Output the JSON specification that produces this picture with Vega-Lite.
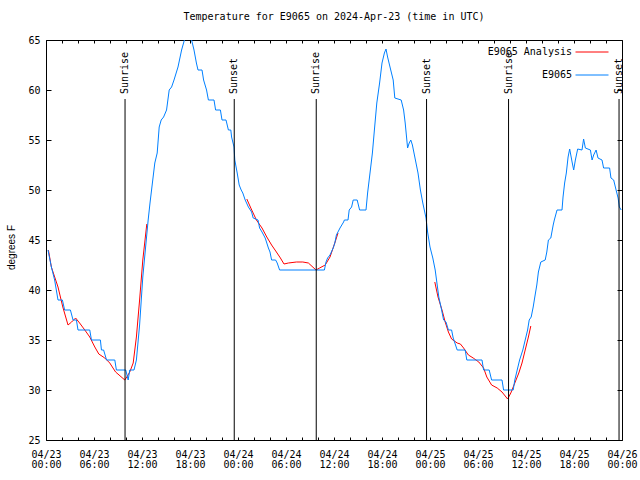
{
  "$schema": "https://vega.github.io/schema/vega-lite/v6.json",
  "width": 576,
  "height": 400,
  "autosize": {"type": "none"},
  "padding": {"left": 46, "top": 40, "right": 18, "bottom": 40},
  "background": "white",
  "title": {"text": "Temperature for E9065 on 2024-Apr-23 (time in UTC)", "font": "DejaVu Sans Mono", "fontSize": 10, "fontWeight": "normal", "color": "black", "offset": 13, "anchor": "middle"},
  "config": {
    "view": {"stroke": null},
    "axis": {"grid": false, "domainColor": "black", "tickColor": "black", "labelColor": "black", "titleColor": "black", "labelFont": "DejaVu Sans Mono", "labelFontSize": 10}
  },
  "datasets": {
    "obs": [
      {"hours": 0.25, "temp": 44, "series": "E9065"}, {"hours": 0.67, "temp": 42.3, "series": "E9065"}, {"hours": 1.08, "temp": 41, "series": "E9065"}, {"hours": 1.5, "temp": 39, "series": "E9065"},
      {"hours": 2.05, "temp": 39, "series": "E9065"}, {"hours": 2.33, "temp": 38, "series": "E9065"}, {"hours": 3.05, "temp": 38, "series": "E9065"}, {"hours": 3.38, "temp": 37, "series": "E9065"},
      {"hours": 3.8, "temp": 37, "series": "E9065"}, {"hours": 4.0, "temp": 36, "series": "E9065"}, {"hours": 5.47, "temp": 36, "series": "E9065"}, {"hours": 5.68, "temp": 35, "series": "E9065"},
      {"hours": 6.8, "temp": 35, "series": "E9065"}, {"hours": 6.93, "temp": 34, "series": "E9065"}, {"hours": 7.2, "temp": 34, "series": "E9065"}, {"hours": 7.57, "temp": 33, "series": "E9065"},
      {"hours": 8.6, "temp": 33, "series": "E9065"}, {"hours": 8.8, "temp": 32, "series": "E9065"}, {"hours": 9.97, "temp": 32, "series": "E9065"}, {"hours": 10.27, "temp": 31, "series": "E9065"},
      {"hours": 10.47, "temp": 32, "series": "E9065"}, {"hours": 11.0, "temp": 32, "series": "E9065"}, {"hours": 11.3, "temp": 33, "series": "E9065"}, {"hours": 11.7, "temp": 36.5, "series": "E9065"},
      {"hours": 12.1, "temp": 41.3, "series": "E9065"}, {"hours": 12.57, "temp": 45.3, "series": "E9065"}, {"hours": 12.77, "temp": 47, "series": "E9065"}, {"hours": 13.0, "temp": 48.7, "series": "E9065"},
      {"hours": 13.3, "temp": 50.7, "series": "E9065"}, {"hours": 13.6, "temp": 52.7, "series": "E9065"}, {"hours": 13.9, "temp": 53.7, "series": "E9065"}, {"hours": 14.15, "temp": 56.3, "series": "E9065"},
      {"hours": 14.4, "temp": 57, "series": "E9065"}, {"hours": 14.7, "temp": 57.3, "series": "E9065"}, {"hours": 15.07, "temp": 58, "series": "E9065"}, {"hours": 15.4, "temp": 60, "series": "E9065"},
      {"hours": 15.7, "temp": 60.3, "series": "E9065"}, {"hours": 16.0, "temp": 61, "series": "E9065"}, {"hours": 16.5, "temp": 62.3, "series": "E9065"}, {"hours": 16.95, "temp": 64, "series": "E9065"},
      {"hours": 17.3, "temp": 65, "series": "E9065"}, {"hours": 17.75, "temp": 66, "series": "E9065"}, {"hours": 18.2, "temp": 65, "series": "E9065"}, {"hours": 18.5, "temp": 64, "series": "E9065"},
      {"hours": 18.8, "temp": 62.7, "series": "E9065"}, {"hours": 19.0, "temp": 62, "series": "E9065"}, {"hours": 19.5, "temp": 62, "series": "E9065"}, {"hours": 19.7, "temp": 61, "series": "E9065"},
      {"hours": 20.07, "temp": 60, "series": "E9065"}, {"hours": 20.3, "temp": 59, "series": "E9065"}, {"hours": 21.0, "temp": 59, "series": "E9065"}, {"hours": 21.2, "temp": 58, "series": "E9065"},
      {"hours": 21.8, "temp": 58, "series": "E9065"}, {"hours": 22.0, "temp": 57, "series": "E9065"}, {"hours": 22.5, "temp": 57, "series": "E9065"}, {"hours": 22.8, "temp": 56, "series": "E9065"},
      {"hours": 23.1, "temp": 56, "series": "E9065"}, {"hours": 23.2, "temp": 55.3, "series": "E9065"}, {"hours": 23.5, "temp": 54.3, "series": "E9065"}, {"hours": 23.6, "temp": 53, "series": "E9065"},
      {"hours": 23.9, "temp": 51.7, "series": "E9065"}, {"hours": 24.15, "temp": 50.5, "series": "E9065"}, {"hours": 24.4, "temp": 50, "series": "E9065"}, {"hours": 24.6, "temp": 49.7, "series": "E9065"},
      {"hours": 24.9, "temp": 49, "series": "E9065"}, {"hours": 25.3, "temp": 48.3, "series": "E9065"}, {"hours": 25.7, "temp": 47.8, "series": "E9065"}, {"hours": 25.9, "temp": 47.2, "series": "E9065"},
      {"hours": 26.5, "temp": 47, "series": "E9065"}, {"hours": 26.7, "temp": 46.2, "series": "E9065"}, {"hours": 27.0, "temp": 45.8, "series": "E9065"}, {"hours": 27.4, "temp": 45.2, "series": "E9065"},
      {"hours": 27.8, "temp": 44.2, "series": "E9065"}, {"hours": 28.0, "temp": 43.8, "series": "E9065"}, {"hours": 28.2, "temp": 43, "series": "E9065"}, {"hours": 28.7, "temp": 43, "series": "E9065"},
      {"hours": 28.9, "temp": 42.7, "series": "E9065"}, {"hours": 29.2, "temp": 42, "series": "E9065"}, {"hours": 34.8, "temp": 42, "series": "E9065"}, {"hours": 35.0, "temp": 42.8, "series": "E9065"},
      {"hours": 35.2, "temp": 43.2, "series": "E9065"}, {"hours": 35.5, "temp": 43.5, "series": "E9065"}, {"hours": 35.9, "temp": 44.2, "series": "E9065"}, {"hours": 36.1, "temp": 44.7, "series": "E9065"},
      {"hours": 36.3, "temp": 45.5, "series": "E9065"}, {"hours": 36.75, "temp": 46.2, "series": "E9065"}, {"hours": 37.2, "temp": 46.8, "series": "E9065"}, {"hours": 37.3, "temp": 47, "series": "E9065"},
      {"hours": 37.75, "temp": 47, "series": "E9065"}, {"hours": 37.9, "temp": 48, "series": "E9065"}, {"hours": 38.2, "temp": 48.3, "series": "E9065"}, {"hours": 38.4, "temp": 49, "series": "E9065"},
      {"hours": 38.9, "temp": 49, "series": "E9065"}, {"hours": 39.2, "temp": 48, "series": "E9065"}, {"hours": 40.0, "temp": 48, "series": "E9065"}, {"hours": 40.2, "temp": 49.7, "series": "E9065"},
      {"hours": 40.5, "temp": 51.7, "series": "E9065"}, {"hours": 40.8, "temp": 53.7, "series": "E9065"}, {"hours": 41.05, "temp": 56, "series": "E9065"}, {"hours": 41.35, "temp": 58.7, "series": "E9065"},
      {"hours": 41.7, "temp": 60.7, "series": "E9065"}, {"hours": 42.0, "temp": 62.7, "series": "E9065"}, {"hours": 42.3, "temp": 63.7, "series": "E9065"}, {"hours": 42.5, "temp": 64.1, "series": "E9065"},
      {"hours": 42.7, "temp": 63.3, "series": "E9065"}, {"hours": 43.0, "temp": 62.3, "series": "E9065"}, {"hours": 43.4, "temp": 61, "series": "E9065"}, {"hours": 43.6, "temp": 59.2, "series": "E9065"},
      {"hours": 44.4, "temp": 59, "series": "E9065"}, {"hours": 44.7, "temp": 58, "series": "E9065"}, {"hours": 44.9, "temp": 56.7, "series": "E9065"}, {"hours": 45.2, "temp": 54.2, "series": "E9065"},
      {"hours": 45.4, "temp": 54.7, "series": "E9065"}, {"hours": 45.6, "temp": 55, "series": "E9065"}, {"hours": 45.8, "temp": 54.5, "series": "E9065"}, {"hours": 46.1, "temp": 53.3, "series": "E9065"},
      {"hours": 46.5, "temp": 51.7, "series": "E9065"}, {"hours": 46.8, "temp": 50, "series": "E9065"}, {"hours": 47.1, "temp": 48.7, "series": "E9065"}, {"hours": 47.5, "temp": 47.2, "series": "E9065"},
      {"hours": 47.7, "temp": 45.8, "series": "E9065"}, {"hours": 48.0, "temp": 44.3, "series": "E9065"}, {"hours": 48.35, "temp": 43.2, "series": "E9065"}, {"hours": 48.65, "temp": 42, "series": "E9065"},
      {"hours": 48.9, "temp": 40.5, "series": "E9065"}, {"hours": 49.1, "temp": 39.3, "series": "E9065"}, {"hours": 49.4, "temp": 38.2, "series": "E9065"}, {"hours": 49.7, "temp": 37, "series": "E9065"},
      {"hours": 50.0, "temp": 36.8, "series": "E9065"}, {"hours": 50.3, "temp": 36, "series": "E9065"}, {"hours": 50.7, "temp": 36, "series": "E9065"}, {"hours": 50.9, "temp": 35.2, "series": "E9065"},
      {"hours": 51.4, "temp": 34, "series": "E9065"}, {"hours": 52.4, "temp": 34, "series": "E9065"}, {"hours": 52.6, "temp": 33, "series": "E9065"}, {"hours": 54.5, "temp": 33, "series": "E9065"},
      {"hours": 54.7, "temp": 32, "series": "E9065"}, {"hours": 55.4, "temp": 32, "series": "E9065"}, {"hours": 55.7, "temp": 31, "series": "E9065"}, {"hours": 57.0, "temp": 31, "series": "E9065"},
      {"hours": 57.2, "temp": 30, "series": "E9065"}, {"hours": 58.4, "temp": 30, "series": "E9065"}, {"hours": 58.6, "temp": 31, "series": "E9065"}, {"hours": 58.9, "temp": 32, "series": "E9065"},
      {"hours": 59.2, "temp": 33, "series": "E9065"}, {"hours": 59.6, "temp": 34, "series": "E9065"}, {"hours": 59.9, "temp": 35, "series": "E9065"}, {"hours": 60.2, "temp": 36, "series": "E9065"},
      {"hours": 60.4, "temp": 37, "series": "E9065"}, {"hours": 60.65, "temp": 37.3, "series": "E9065"}, {"hours": 60.9, "temp": 38.3, "series": "E9065"}, {"hours": 61.1, "temp": 39.3, "series": "E9065"},
      {"hours": 61.35, "temp": 40.5, "series": "E9065"}, {"hours": 61.55, "temp": 41.8, "series": "E9065"}, {"hours": 61.85, "temp": 42.8, "series": "E9065"}, {"hours": 62.4, "temp": 43, "series": "E9065"},
      {"hours": 62.6, "temp": 43.8, "series": "E9065"}, {"hours": 62.8, "temp": 45, "series": "E9065"}, {"hours": 63.1, "temp": 45.2, "series": "E9065"}, {"hours": 63.4, "temp": 46.5, "series": "E9065"},
      {"hours": 63.54, "temp": 47, "series": "E9065"}, {"hours": 63.88, "temp": 48, "series": "E9065"}, {"hours": 64.5, "temp": 48, "series": "E9065"}, {"hours": 64.63, "temp": 49.3, "series": "E9065"},
      {"hours": 64.83, "temp": 50.7, "series": "E9065"}, {"hours": 65.04, "temp": 51.7, "series": "E9065"}, {"hours": 65.26, "temp": 53.3, "series": "E9065"}, {"hours": 65.46, "temp": 54.1, "series": "E9065"},
      {"hours": 65.76, "temp": 52.8, "series": "E9065"}, {"hours": 65.96, "temp": 52, "series": "E9065"}, {"hours": 66.17, "temp": 53, "series": "E9065"}, {"hours": 66.46, "temp": 54.1, "series": "E9065"},
      {"hours": 67.0, "temp": 54, "series": "E9065"}, {"hours": 67.2, "temp": 55.1, "series": "E9065"}, {"hours": 67.42, "temp": 54.2, "series": "E9065"}, {"hours": 68.05, "temp": 54, "series": "E9065"},
      {"hours": 68.26, "temp": 53, "series": "E9065"}, {"hours": 68.46, "temp": 53.5, "series": "E9065"}, {"hours": 68.76, "temp": 54, "series": "E9065"}, {"hours": 69.0, "temp": 53.2, "series": "E9065"},
      {"hours": 69.5, "temp": 53, "series": "E9065"}, {"hours": 69.7, "temp": 52.2, "series": "E9065"}, {"hours": 70.45, "temp": 52.2, "series": "E9065"}, {"hours": 70.62, "temp": 51.2, "series": "E9065"},
      {"hours": 70.96, "temp": 51, "series": "E9065"}, {"hours": 71.26, "temp": 50, "series": "E9065"}, {"hours": 71.51, "temp": 49.2, "series": "E9065"}, {"hours": 71.67, "temp": 48.3, "series": "E9065"},
      {"hours": 71.9, "temp": 48, "series": "E9065"}
    ],
    "analysis": [
      {"hours": 0.3, "temp": 44, "series": "E9065 Analysis", "segment": 1}, {"hours": 0.67, "temp": 42.3, "series": "E9065 Analysis", "segment": 1}, {"hours": 1.5, "temp": 40.3, "series": "E9065 Analysis", "segment": 1},
      {"hours": 2.1, "temp": 38.3, "series": "E9065 Analysis", "segment": 1}, {"hours": 2.75, "temp": 36.5, "series": "E9065 Analysis", "segment": 1}, {"hours": 3.2, "temp": 36.8, "series": "E9065 Analysis", "segment": 1},
      {"hours": 3.7, "temp": 37.2, "series": "E9065 Analysis", "segment": 1}, {"hours": 4.2, "temp": 36.7, "series": "E9065 Analysis", "segment": 1}, {"hours": 4.85, "temp": 36, "series": "E9065 Analysis", "segment": 1},
      {"hours": 5.47, "temp": 35.3, "series": "E9065 Analysis", "segment": 1}, {"hours": 6.1, "temp": 34.3, "series": "E9065 Analysis", "segment": 1}, {"hours": 6.6, "temp": 33.6, "series": "E9065 Analysis", "segment": 1},
      {"hours": 7.35, "temp": 33.2, "series": "E9065 Analysis", "segment": 1}, {"hours": 7.97, "temp": 32.7, "series": "E9065 Analysis", "segment": 1}, {"hours": 8.7, "temp": 31.8, "series": "E9065 Analysis", "segment": 1},
      {"hours": 9.85, "temp": 31, "series": "E9065 Analysis", "segment": 1}, {"hours": 10.1, "temp": 31.3, "series": "E9065 Analysis", "segment": 1}, {"hours": 10.47, "temp": 31.8, "series": "E9065 Analysis", "segment": 1},
      {"hours": 10.9, "temp": 32.7, "series": "E9065 Analysis", "segment": 1}, {"hours": 11.3, "temp": 35.3, "series": "E9065 Analysis", "segment": 1}, {"hours": 11.7, "temp": 39, "series": "E9065 Analysis", "segment": 1},
      {"hours": 12.1, "temp": 43, "series": "E9065 Analysis", "segment": 1}, {"hours": 12.6, "temp": 46.6, "series": "E9065 Analysis", "segment": 1},
      {"hours": 25.1, "temp": 49.1, "series": "E9065 Analysis", "segment": 2}, {"hours": 25.6, "temp": 48.2, "series": "E9065 Analysis", "segment": 2}, {"hours": 26.3, "temp": 47, "series": "E9065 Analysis", "segment": 2},
      {"hours": 27.0, "temp": 46.2, "series": "E9065 Analysis", "segment": 2}, {"hours": 27.6, "temp": 45.3, "series": "E9065 Analysis", "segment": 2}, {"hours": 28.2, "temp": 44.5, "series": "E9065 Analysis", "segment": 2},
      {"hours": 28.8, "temp": 43.8, "series": "E9065 Analysis", "segment": 2}, {"hours": 29.3, "temp": 43.2, "series": "E9065 Analysis", "segment": 2}, {"hours": 29.75, "temp": 42.6, "series": "E9065 Analysis", "segment": 2},
      {"hours": 30.3, "temp": 42.7, "series": "E9065 Analysis", "segment": 2}, {"hours": 31.3, "temp": 42.8, "series": "E9065 Analysis", "segment": 2}, {"hours": 32.1, "temp": 42.8, "series": "E9065 Analysis", "segment": 2},
      {"hours": 32.8, "temp": 42.7, "series": "E9065 Analysis", "segment": 2}, {"hours": 33.75, "temp": 42, "series": "E9065 Analysis", "segment": 2}, {"hours": 34.2, "temp": 42.2, "series": "E9065 Analysis", "segment": 2},
      {"hours": 34.9, "temp": 42.5, "series": "E9065 Analysis", "segment": 2}, {"hours": 35.5, "temp": 43.3, "series": "E9065 Analysis", "segment": 2}, {"hours": 36.1, "temp": 44.7, "series": "E9065 Analysis", "segment": 2},
      {"hours": 36.5, "temp": 45.7, "series": "E9065 Analysis", "segment": 2},
      {"hours": 48.6, "temp": 40.8, "series": "E9065 Analysis", "segment": 3}, {"hours": 49.0, "temp": 39.3, "series": "E9065 Analysis", "segment": 3}, {"hours": 49.5, "temp": 38, "series": "E9065 Analysis", "segment": 3},
      {"hours": 49.9, "temp": 36.8, "series": "E9065 Analysis", "segment": 3}, {"hours": 50.3, "temp": 35.8, "series": "E9065 Analysis", "segment": 3}, {"hours": 50.7, "temp": 35.1, "series": "E9065 Analysis", "segment": 3},
      {"hours": 51.4, "temp": 34.7, "series": "E9065 Analysis", "segment": 3}, {"hours": 51.8, "temp": 34.6, "series": "E9065 Analysis", "segment": 3}, {"hours": 52.2, "temp": 34.2, "series": "E9065 Analysis", "segment": 3},
      {"hours": 52.8, "temp": 33.5, "series": "E9065 Analysis", "segment": 3}, {"hours": 53.4, "temp": 33.2, "series": "E9065 Analysis", "segment": 3}, {"hours": 54.1, "temp": 32.8, "series": "E9065 Analysis", "segment": 3},
      {"hours": 54.7, "temp": 32.2, "series": "E9065 Analysis", "segment": 3}, {"hours": 55.1, "temp": 31.3, "series": "E9065 Analysis", "segment": 3}, {"hours": 55.7, "temp": 30.5, "series": "E9065 Analysis", "segment": 3},
      {"hours": 56.4, "temp": 30.2, "series": "E9065 Analysis", "segment": 3}, {"hours": 57.0, "temp": 29.8, "series": "E9065 Analysis", "segment": 3}, {"hours": 57.7, "temp": 29.1, "series": "E9065 Analysis", "segment": 3},
      {"hours": 58.1, "temp": 29.7, "series": "E9065 Analysis", "segment": 3}, {"hours": 58.6, "temp": 30.7, "series": "E9065 Analysis", "segment": 3}, {"hours": 59.1, "temp": 31.7, "series": "E9065 Analysis", "segment": 3},
      {"hours": 59.5, "temp": 32.7, "series": "E9065 Analysis", "segment": 3}, {"hours": 59.9, "temp": 34, "series": "E9065 Analysis", "segment": 3}, {"hours": 60.3, "temp": 35.3, "series": "E9065 Analysis", "segment": 3},
      {"hours": 60.6, "temp": 36.4, "series": "E9065 Analysis", "segment": 3}
    ],
    "sun": [
      {"hours": 9.88, "label": "Sunrise"},
      {"hours": 23.53, "label": "Sunset"},
      {"hours": 33.78, "label": "Sunrise"},
      {"hours": 47.57, "label": "Sunset"},
      {"hours": 57.82, "label": "Sunrise"},
      {"hours": 71.63, "label": "Sunset"}
    ]
  },
  "layer": [
    {
      "data": {"name": "analysis"},
      "mark": {"type": "line", "strokeWidth": 1, "clip": true},
      "encoding": {
        "x": {
          "field": "hours", "type": "quantitative",
          "scale": {"domain": [0, 72], "nice": false, "zero": false},
          "axis": {
            "orient": "bottom", "title": null,
            "values": [0, 2, 4, 6, 8, 10, 12, 14, 16, 18, 20, 22, 24, 26, 28, 30, 32, 34, 36, 38, 40, 42, 44, 46, 48, 50, 52, 54, 56, 58, 60, 62, 64, 66, 68, 70, 72],
            "labelExpr": "datum.value % 6 == 0 ? ['04/' + (23 + floor(datum.value / 24)), (datum.value % 24 < 10 ? '0' : '') + (datum.value % 24) + ':00'] : ''",
            "labelOverlap": false, "labelFlush": false, "labelBaseline": "top", "labelLineHeight": 10, "labelPadding": 12,
            "tickSize": -3
          }
        },
        "y": {
          "field": "temp", "type": "quantitative",
          "scale": {"domain": [25, 65], "nice": false, "zero": false},
          "axis": {
            "orient": "left", "title": "degrees F",
            "values": [25, 30, 35, 40, 45, 50, 55, 60, 65],
            "tickSize": -5, "labelPadding": 11, "labelBaseline": "middle",
            "titleFont": "Liberation Sans", "titleFontSize": 10, "titleFontWeight": "normal",
            "titleX": -35, "titleY": 207, "titleAngle": 270, "titleBaseline": "middle", "titleAlign": "center"
          }
        },
        "color": {
          "field": "series", "type": "nominal",
          "scale": {"domain": ["E9065 Analysis", "E9065"], "range": ["#ff0000", "#0080ff"]},
          "legend": {
            "orient": "none", "legendX": 529, "legendY": -5, "direction": "vertical", "title": null,
            "symbolType": "stroke", "symbolSize": 1089, "symbolStrokeWidth": 1,
            "labelAlign": "right", "labelOffset": -37, "labelFont": "DejaVu Sans Mono", "labelFontSize": 10, "labelColor": "black",
            "rowPadding": 1, "padding": 0, "labelLimit": 200
          }
        },
        "detail": {"field": "segment", "type": "nominal"}
      }
    },
    {
      "data": {"name": "obs"},
      "mark": {"type": "line", "strokeWidth": 1, "clip": true},
      "encoding": {
        "x": {
          "field": "hours", "type": "quantitative",
          "scale": {"domain": [0, 72], "nice": false, "zero": false},
          "axis": {
            "orient": "top", "title": null, "labels": false,
            "values": [0, 2, 4, 6, 8, 10, 12, 14, 16, 18, 20, 22, 24, 26, 28, 30, 32, 34, 36, 38, 40, 42, 44, 46, 48, 50, 52, 54, 56, 58, 60, 62, 64, 66, 68, 70, 72],
            "tickSize": -3
          }
        },
        "y": {
          "field": "temp", "type": "quantitative",
          "scale": {"domain": [25, 65], "nice": false, "zero": false},
          "axis": {"orient": "right", "title": null, "labels": false, "values": [25, 30, 35, 40, 45, 50, 55, 60, 65], "tickSize": -5}
        },
        "color": {"field": "series", "type": "nominal"}
      }
    },
    {
      "data": {"name": "sun"},
      "mark": {"type": "rule", "color": "black", "strokeWidth": 1},
      "encoding": {
        "x": {"field": "hours", "type": "quantitative", "axis": null},
        "y": {"datum": 59.1, "type": "quantitative", "axis": null},
        "y2": {"datum": 25}
      }
    },
    {
      "data": {"name": "sun"},
      "mark": {"type": "text", "angle": 270, "align": "left", "baseline": "middle", "font": "DejaVu Sans Mono", "fontSize": 10, "color": "black"},
      "encoding": {
        "x": {"field": "hours", "type": "quantitative", "axis": null},
        "y": {"datum": 59.6, "type": "quantitative", "axis": null},
        "text": {"field": "label", "type": "nominal"}
      }
    }
  ],
  "resolve": {"axis": {"x": "independent", "y": "independent"}}
}
